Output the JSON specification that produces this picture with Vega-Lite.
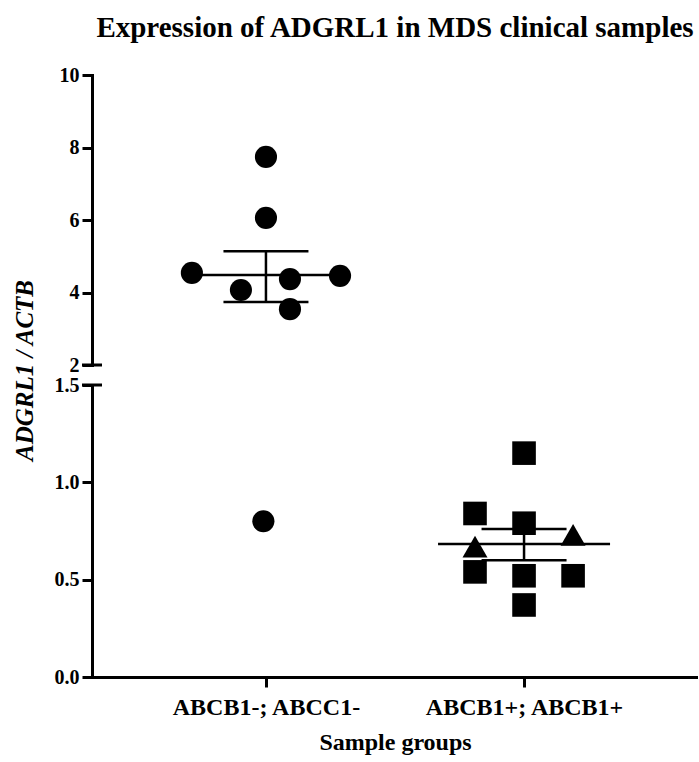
{
  "$schema": "https://vega.github.io/schema/vega-lite/v6.json",
  "padding": {"left": 12, "top": 14, "right": 0, "bottom": 5},
  "background": "white",
  "config": {
    "font": "Liberation Serif",
    "view": {"stroke": null},
    "axis": {
      "domainColor": "black", "domainWidth": 3, "domainCap": "square",
      "tickColor": "black", "tickWidth": 3, "tickSize": 10,
      "labelFont": "Liberation Serif", "labelFontWeight": "bold", "labelFontSize": 20, "labelColor": "black", "labelLimit": 0,
      "titleFont": "Liberation Serif", "titleColor": "black", "grid": false
    }
  },
  "datasets": {
    "pts": [
      {"group": "ABCB1-; ABCC1-", "x": 1.0, "y": 7.74, "marker": "circle"},
      {"group": "ABCB1-; ABCC1-", "x": 1.0, "y": 6.06, "marker": "circle"},
      {"group": "ABCB1-; ABCC1-", "x": 0.713, "y": 4.54, "marker": "circle"},
      {"group": "ABCB1-; ABCC1-", "x": 0.903, "y": 4.07, "marker": "circle"},
      {"group": "ABCB1-; ABCC1-", "x": 1.093, "y": 4.37, "marker": "circle"},
      {"group": "ABCB1-; ABCC1-", "x": 1.287, "y": 4.46, "marker": "circle"},
      {"group": "ABCB1-; ABCC1-", "x": 1.093, "y": 3.54, "marker": "circle"},
      {"group": "ABCB1-; ABCC1-", "x": 0.99, "y": 0.80, "marker": "circle"},
      {"group": "ABCB1+; ABCB1+", "x": 2.0, "y": 1.15, "marker": "square"},
      {"group": "ABCB1+; ABCB1+", "x": 1.81, "y": 0.84, "marker": "square"},
      {"group": "ABCB1+; ABCB1+", "x": 2.0, "y": 0.79, "marker": "square"},
      {"group": "ABCB1+; ABCB1+", "x": 1.81, "y": 0.54, "marker": "square"},
      {"group": "ABCB1+; ABCB1+", "x": 2.0, "y": 0.52, "marker": "square"},
      {"group": "ABCB1+; ABCB1+", "x": 2.19, "y": 0.52, "marker": "square"},
      {"group": "ABCB1+; ABCB1+", "x": 2.0, "y": 0.37, "marker": "square"},
      {"group": "ABCB1+; ABCB1+", "x": 1.81, "y": 0.67, "marker": "triangle"},
      {"group": "ABCB1+; ABCB1+", "x": 2.19, "y": 0.73, "marker": "triangle"}
    ],
    "summ": [
      {"group": "ABCB1-; ABCC1-", "gx": 1, "mean": 4.48, "lo": 3.74, "hi": 5.14},
      {"group": "ABCB1+; ABCB1+", "gx": 2, "mean": 0.683, "lo": 0.60, "hi": 0.76}
    ]
  },
  "bounds": "flush",
  "spacing": 20,
  "vconcat": [
    {
      "title": {"text": "Expression of ADGRL1 in MDS clinical samples", "fontSize": 29, "fontWeight": "bold", "color": "black", "anchor": "middle", "frame": "group", "offset": 22},
      "width": 606,
      "height": 290,
      "layer": [
        {
          "data": {"name": "pts"},
          "transform": [{"filter": "datum.y >= 2"}],
          "mark": {"type": "point", "filled": true, "opacity": 1, "color": "black"},
          "encoding": {
            "x": {"field": "x", "type": "quantitative", "scale": {"domain": [0.326, 2.674], "nice": false, "zero": false}, "axis": null},
            "y": {"field": "y", "type": "quantitative", "scale": {"domain": [2, 10], "nice": false, "zero": false},
                  "axis": {"values": [2, 4, 6, 8, 10], "format": "d", "title": null, "labelPadding": 3}},
            "shape": {"field": "marker", "type": "nominal", "scale": {"domain": ["circle", "square", "triangle"], "range": ["circle", "square", "triangle-up"]}, "legend": null},
            "size": {"field": "marker", "type": "nominal", "scale": {"domain": ["circle", "square", "triangle"], "range": [490, 625, 420]}, "legend": null}
          }
        },
        {
          "data": {"name": "summ"},
          "transform": [{"filter": "datum.gx == 1"}],
          "mark": {"type": "rule", "color": "black", "strokeWidth": 2.5},
          "encoding": {
            "x": {"field": "gx", "type": "quantitative"},
            "y": {"field": "lo", "type": "quantitative"},
            "y2": {"field": "hi"}
          }
        },
        {
          "data": {"name": "summ"},
          "transform": [{"filter": "datum.gx == 1"}],
          "mark": {"type": "tick", "orient": "horizontal", "color": "black", "size": 148, "thickness": 2.5, "opacity": 1},
          "encoding": {"x": {"field": "gx", "type": "quantitative"}, "y": {"field": "mean", "type": "quantitative"}}
        },
        {
          "data": {"name": "summ"},
          "transform": [{"filter": "datum.gx == 1"}],
          "mark": {"type": "tick", "orient": "horizontal", "color": "black", "size": 85, "thickness": 2.5, "opacity": 1},
          "encoding": {"x": {"field": "gx", "type": "quantitative"}, "y": {"field": "lo", "type": "quantitative"}}
        },
        {
          "data": {"name": "summ"},
          "transform": [{"filter": "datum.gx == 1"}],
          "mark": {"type": "tick", "orient": "horizontal", "color": "black", "size": 85, "thickness": 2.5, "opacity": 1},
          "encoding": {"x": {"field": "gx", "type": "quantitative"}, "y": {"field": "hi", "type": "quantitative"}}
        },
        {
          "data": {"values": [{}]},
          "mark": {"type": "tick", "orient": "horizontal", "color": "black", "size": 20, "thickness": 3, "opacity": 1},
          "encoding": {"x": {"datum": 0.326, "type": "quantitative"}, "y": {"datum": 2, "type": "quantitative"}}
        }
      ]
    },
    {
      "width": 606,
      "height": 292,
      "layer": [
        {
          "data": {"name": "pts"},
          "transform": [{"filter": "datum.y <= 1.5"}],
          "mark": {"type": "point", "filled": true, "opacity": 1, "color": "black"},
          "encoding": {
            "x": {"field": "x", "type": "quantitative", "scale": {"domain": [0.326, 2.674], "nice": false, "zero": false},
                  "axis": {"values": [1, 2], "labelExpr": "datum.value == 1 ? 'ABCB1-; ABCC1-' : 'ABCB1+; ABCB1+'", "labelFontSize": 24, "labelPadding": 8,
                           "title": "Sample groups", "titleFontSize": 24, "titleFontWeight": "bold", "titlePadding": 11}},
            "y": {"field": "y", "type": "quantitative", "scale": {"domain": [0, 1.5], "nice": false, "zero": false},
                  "axis": {"values": [0, 0.5, 1, 1.5], "format": ".1f", "labelPadding": 3,
                           "title": "ADGRL1 / ACTB", "titleFontSize": 25, "titleFontWeight": "bold", "titleFontStyle": "italic", "titleY": -15, "titlePadding": 17}},
            "shape": {"field": "marker", "type": "nominal", "scale": {"domain": ["circle", "square", "triangle"], "range": ["circle", "square", "triangle-up"]}, "legend": null},
            "size": {"field": "marker", "type": "nominal", "scale": {"domain": ["circle", "square", "triangle"], "range": [490, 625, 420]}, "legend": null}
          }
        },
        {
          "data": {"name": "summ"},
          "transform": [{"filter": "datum.gx == 2"}],
          "mark": {"type": "rule", "color": "black", "strokeWidth": 2.5},
          "encoding": {
            "x": {"field": "gx", "type": "quantitative"},
            "y": {"field": "lo", "type": "quantitative"},
            "y2": {"field": "hi"}
          }
        },
        {
          "data": {"name": "summ"},
          "transform": [{"filter": "datum.gx == 2"}],
          "mark": {"type": "tick", "orient": "horizontal", "color": "black", "size": 172, "thickness": 2.5, "opacity": 1},
          "encoding": {"x": {"field": "gx", "type": "quantitative"}, "y": {"field": "mean", "type": "quantitative"}}
        },
        {
          "data": {"name": "summ"},
          "transform": [{"filter": "datum.gx == 2"}],
          "mark": {"type": "tick", "orient": "horizontal", "color": "black", "size": 85, "thickness": 2.5, "opacity": 1},
          "encoding": {"x": {"field": "gx", "type": "quantitative"}, "y": {"field": "lo", "type": "quantitative"}}
        },
        {
          "data": {"name": "summ"},
          "transform": [{"filter": "datum.gx == 2"}],
          "mark": {"type": "tick", "orient": "horizontal", "color": "black", "size": 85, "thickness": 2.5, "opacity": 1},
          "encoding": {"x": {"field": "gx", "type": "quantitative"}, "y": {"field": "hi", "type": "quantitative"}}
        },
        {
          "data": {"values": [{}]},
          "mark": {"type": "tick", "orient": "horizontal", "color": "black", "size": 20, "thickness": 3, "opacity": 1},
          "encoding": {"x": {"datum": 0.326, "type": "quantitative"}, "y": {"datum": 1.5, "type": "quantitative"}}
        }
      ]
    }
  ]
}
